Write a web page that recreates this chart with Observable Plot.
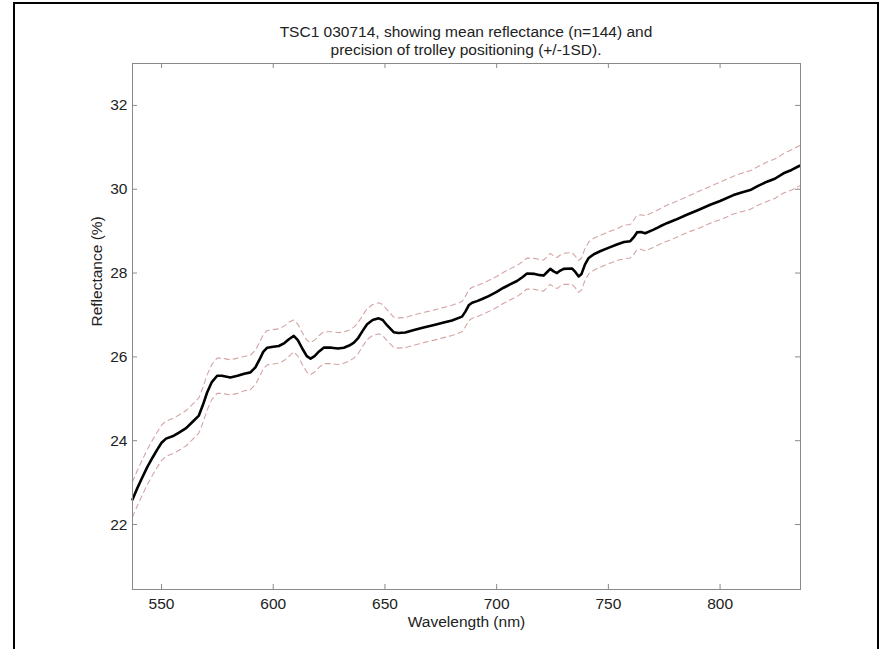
<!DOCTYPE html>
<html><head><meta charset="utf-8">
<script src="https://cdn.jsdelivr.net/npm/d3@7"></script>
<script src="https://cdn.jsdelivr.net/npm/@observablehq/plot@0.6"></script>
<style>
html,body{margin:0;padding:0;background:#fff;}
#wrap{position:relative;width:880px;height:649px;overflow:hidden;font-family:"Liberation Sans",Arial,sans-serif;}
#border{position:absolute;left:13px;top:2px;width:866px;height:700px;border:2px solid #000;box-sizing:border-box;pointer-events:none;}
#title{height:59px;box-sizing:border-box;padding-top:23px;margin-left:132px;width:668px;text-align:center;font-size:15.5px;line-height:18px;color:#222;}
</style></head><body>
<div id="wrap">
<div id="title">TSC1 030714, showing mean reflectance (n=144) and<br>precision of trolley positioning (+/-1SD).</div>
<div id="chart"></div>
<div id="border"></div>
</div>
<script>
const wavelength = [537,539,541,543.6,546,548,550,552,555.5,558,561,563.7,566.7,568.5,570.4,572.5,574.9,577,580.8,584,587,589.8,592,594,595.5,597.3,600,602.5,605,607,609.2,611,613,615,616.7,618.5,620.5,622.6,626,629,631.6,634,636.1,638,640,642,644.5,647.2,649,651,653.9,656,659.1,663,667.3,672,676.3,680,684.5,686,687.5,689,691.2,693.5,696.4,700,703.1,706,709.1,711.5,713.6,717,719.5,721,722.5,724,725.5,727,728.5,730,733.7,735.3,736.7,738,739.5,741.2,743.5,746.3,750,753.8,757,759.8,761.3,762.8,764.5,766.5,770,773,776.2,780,785.1,790,795.6,800,806,810,813.5,817,821,824.5,828.4,832,835.6];
const meanRefl = [22.60,22.85,23.08,23.37,23.60,23.78,23.95,24.05,24.12,24.20,24.30,24.44,24.60,24.85,25.15,25.40,25.55,25.55,25.51,25.55,25.60,25.63,25.75,25.95,26.12,26.22,26.24,26.26,26.33,26.42,26.50,26.40,26.20,26.02,25.96,26.02,26.13,26.22,26.22,26.20,26.22,26.27,26.34,26.45,26.62,26.78,26.88,26.92,26.88,26.75,26.59,26.57,26.58,26.64,26.70,26.76,26.82,26.87,26.96,27.08,27.23,27.29,27.33,27.38,27.45,27.55,27.65,27.73,27.81,27.90,27.99,27.98,27.95,27.94,28.02,28.10,28.04,28.00,28.06,28.10,28.11,28.02,27.92,27.98,28.20,28.36,28.45,28.52,28.60,28.68,28.74,28.76,28.85,28.97,28.98,28.95,29.03,29.11,29.19,29.27,29.39,29.50,29.63,29.72,29.86,29.93,29.98,30.08,30.18,30.25,30.38,30.46,30.56];
const sdRefl = [0.42,0.42,0.42,0.42,0.42,0.42,0.42,0.42,0.42,0.42,
0.42,0.42,0.42,0.42,0.42,0.42,0.42,0.42,0.42,0.42,
0.41,0.41,0.41,0.41,0.41,0.41,0.41,0.41,0.41,0.41,
0.38,0.38,0.38,0.38,0.38,0.38,0.38,0.38,0.38,0.38,
0.37,0.37,0.37,0.37,0.37,0.37,0.37,0.37,0.37,0.37,
0.36,0.36,0.36,0.36,0.36,0.36,0.36,0.36,0.36,0.36,
0.37,0.37,0.37,0.37,0.37,0.37,0.37,0.37,0.37,0.37,
0.37,0.37,0.37,0.37,0.37,0.37,0.37,0.37,0.37,0.37,
0.38,0.38,0.38,0.38,0.38,0.38,0.38,0.38,0.38,0.38,
0.40,0.40,0.41,0.41,0.41,0.42,0.42,0.42,0.43,0.43,
0.43,0.44,0.44,0.45,0.45,0.46,0.46,0.46,0.47,0.47,
0.47,0.48,0.48];
const xTicks = [550,600,650,700,750,800];
const yTicks = [22,24,26,28,30,32];
const xLabel = "Wavelength (nm)";
const yLabel = "Reflectance (%)";

const data = wavelength.map((w,i)=>({wl:w, mean:meanRefl[i], sd:sdRefl[i]}));
const axisGray = "#8a8a8a";
const dashColor = "#d6a3a3";
const chart = Plot.plot({
  width: 880, height: 590,
  marginTop: 4, marginBottom: 60, marginLeft: 132, marginRight: 80,
  x: {domain: [537, 836]},
  y: {domain: [20.45, 33]},
  style: {fontFamily: '"Liberation Sans", Arial, sans-serif', fontSize: "15.5px", color: "#222", background: "#fff", overflow: "visible"},
  marks: [
    Plot.line(data, {x: "wl", y: d => d.mean + d.sd, stroke: dashColor, strokeWidth: 1.1, strokeDasharray: "5,4"}),
    Plot.line(data, {x: "wl", y: d => d.mean - d.sd, stroke: dashColor, strokeWidth: 1.1, strokeDasharray: "5,4"}),
    Plot.line(data, {x: "wl", y: "mean", stroke: "#000", strokeWidth: 2.6}),
    Plot.frame({stroke: axisGray}),
    Plot.ruleX(xTicks, {x: d => d, insetTop: 521, stroke: axisGray}),
    Plot.ruleX(xTicks, {x: d => d, insetBottom: 521, stroke: axisGray}),
    Plot.ruleY(yTicks, {y: d => d, insetRight: 663, stroke: axisGray}),
    Plot.ruleY(yTicks, {y: d => d, insetLeft: 663, stroke: axisGray}),
    Plot.axisX(xTicks, {tickSize: 0, tickPadding: 8, label: null, fontSize: 15.5, fill: "#222"}),
    Plot.axisY(yTicks, {tickSize: 0, tickPadding: 5, label: null, fontSize: 15.5, fill: "#222"}),
    Plot.text([xLabel], {text: d => d, frameAnchor: "bottom", dy: 33, lineAnchor: "middle", fontSize: 15.5, fill: "#222"}),
    Plot.text([yLabel], {text: d => d, frameAnchor: "left", dx: -35, rotate: -90, lineAnchor: "middle", fontSize: 15.5, fill: "#222"})
  ]
});
document.getElementById("chart").appendChild(chart);
</script>
</body></html>
